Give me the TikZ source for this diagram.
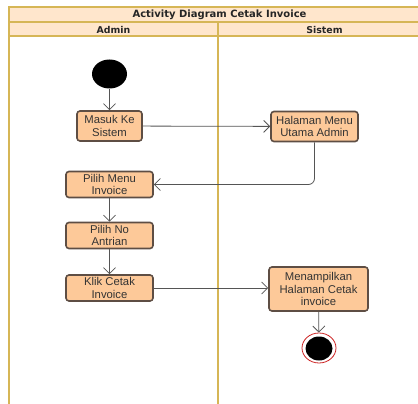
\documentclass[tikz,border=0pt]{standalone}
\usepackage{fontspec}
\setmainfont{Liberation Sans}
\newfontfamily\headfont{DejaVu Sans}
\usetikzlibrary{arrows.meta,shapes.geometric}
\definecolor{lanefill}{HTML}{FFE6CC}
\definecolor{laneline}{HTML}{D6B656}
\definecolor{actfill}{HTML}{FDC999}
\definecolor{actline}{HTML}{5E4E44}
\definecolor{edgecol}{HTML}{555555}
\definecolor{txtcol}{HTML}{333333}
\definecolor{endring}{HTML}{CC2222}
\tikzset{
  lane/.style={draw=laneline, line width=1.3pt},
  act/.style={draw=actline, fill=actfill, line width=1.6pt, rounded corners=3pt,
    text=txtcol, font=\fontsize{11.3}{12.8}\selectfont, align=center,
    inner sep=0pt, minimum height=30pt},
  flow/.style={draw=edgecol, line width=0.8pt,
    -{Straight Barb[length=6pt,width=12pt,line width=0.8pt]}},
  lanehead/.style={font=\headfont\bfseries\fontsize{9.4}{11}\selectfont, text=black!85},
}
\begin{document}
\begin{tikzpicture}[x=1pt,y=-1pt]
\useasboundingbox (0,0) rectangle (418,404);
\fill[white] (0,0) rectangle (418,404);
\begin{scope}
\clip (0,0) rectangle (418,404);
% swimlane frame
\draw[lane, fill=lanefill] (9,7) rectangle (431,22);
\draw[lane, fill=lanefill] (9,22) rectangle (431,36);
\draw[lane] (9,36) -- (9,410);
\draw[lane] (218,22) -- (218,410);
\node[font=\headfont\bfseries\fontsize{10}{12}\selectfont, text=black!85] (title) at (219.5,14.5) {Activity Diagram Cetak Invoice};
\node[lanehead] (laneA) at (113.5,29.5) {Admin};
\node[lanehead] (laneB) at (324.5,29.5) {Sistem};
\end{scope}

% start
\node[ellipse, fill=black, minimum width=35pt, minimum height=29pt, inner sep=0pt] (start) at (109.5,74) {};

% activities
\node[act, minimum width=65pt] (masuk) at (109.5,126) {Masuk Ke\\Sistem};
\node[act, minimum width=87pt] (menu) at (314.5,126.5) {Halaman Menu\\Utama Admin};
\node[act, minimum width=87pt, minimum height=26pt] (pilihmenu) at (109.5,184.5) {Pilih Menu\\Invoice};
\node[act, minimum width=87pt, minimum height=26pt] (antrian) at (109.5,235.5) {Pilih No\\Antrian};
\node[act, minimum width=87pt, minimum height=26pt] (klik) at (109.5,288) {Klik Cetak\\Invoice};
\node[act, minimum width=99pt, minimum height=44pt] (tampil) at (318.5,289) {Menampilkan\\Halaman Cetak\\invoice};

% end
\node[ellipse, draw=endring, fill=white, line width=0.8pt, minimum width=34pt, minimum height=30pt, inner sep=0pt] (stop) at (319,348) {};
\node[ellipse, fill=black, minimum width=27pt, minimum height=24pt, inner sep=0pt] (stopdot) at (319,348.5) {};

% flows
\draw[flow] (start) -- (masuk);
\draw[flow] (masuk) -- (menu);
\draw[flow, rounded corners=6pt] (menu.south) |- (pilihmenu.east);
\draw[flow] (pilihmenu) -- (antrian);
\draw[flow] (antrian) -- (klik);
\draw[flow] (klik.east) -- (tampil.west |- klik.east);
\draw[flow] (tampil) -- (stop);
\end{tikzpicture}
\end{document}
